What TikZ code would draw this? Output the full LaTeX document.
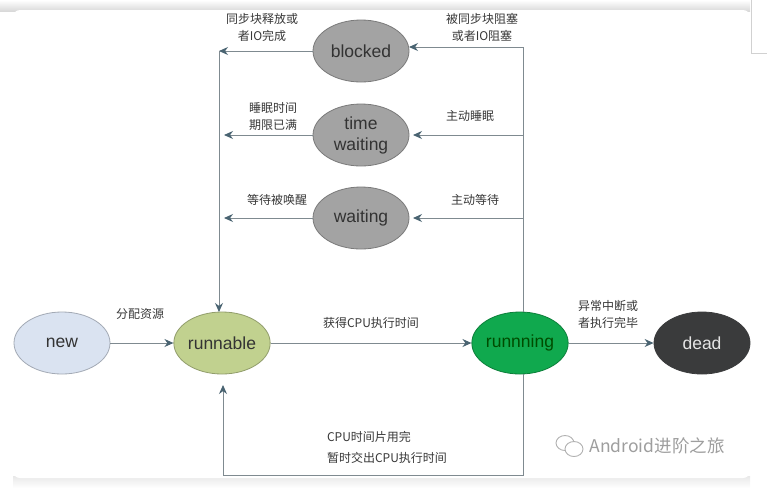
\documentclass[tikz,border=0pt]{standalone}
\usepackage{fontspec}
\setmainfont{Noto Sans CJK SC}
\newfontfamily\statefont{Liberation Sans}
\usetikzlibrary{arrows.meta,shapes.geometric}
\definecolor{linegray}{HTML}{7F8A90}
\definecolor{tipblue}{HTML}{4A6472}
\tikzset{
  state/.style={ellipse,draw=#1!75!black,fill=#1,line width=0.8pt,minimum width=96pt,minimum height=62pt,
    inner sep=0pt,align=center,font=\statefont\fontsize{17.5}{21}\selectfont,text=black!80},
  note/.style={align=center,inner sep=0pt,text=black!78,font=\fontsize{12}{17}\selectfont},
  flow/.style={draw=linegray,line width=1pt},
  arrow/.style={flow,-{Stealth[length=9pt,width=8pt,color=tipblue]}}
}
\definecolor{newblue}{HTML}{DAE3F1}
\definecolor{runnablegreen}{HTML}{C1D18F}
\definecolor{runninggreen}{HTML}{10A94E}
\definecolor{deadgray}{HTML}{3A3B3C}
\definecolor{waitgray}{HTML}{A3A3A3}
\begin{document}
\begin{tikzpicture}[x=1pt,y=-1pt]
  \useasboundingbox (0,0) rectangle (767,488);
  % card and its shadow
  \shade[top color=white,bottom color=black!15] (0,0) rectangle (750,11);
  \shade[top color=black!9,bottom color=white] (13,476) rectangle (750,488);
  \fill[white,rounded corners=7pt] (13,10) rectangle (750,478);
  \draw[black!18,line width=0.8pt] (751,0) -- (751,53) -- (767,53);

  % states
  \node[state=waitgray] (blocked) at (361,51) {blocked};
  \node[state=waitgray] (timewaiting) at (361,135) {time\\waiting};
  \node[state=waitgray] (waiting) at (361,218) {waiting};
  \node[state=newblue] (new) at (62,343) {new};
  \node[state=runnablegreen] (runnable) at (222,343) {runnable};
  \node[state=runninggreen,text=black!70!green] (running) at (520,343) {runnning};
  \node[state=deadgray,draw=deadgray,text=white!90!black] (dead) at (702,343) {dead};

  % free ends of the connectors
  \coordinate (leftin) at (219,51);
  \coordinate (leftdown) at (219,312);
  \coordinate (lefttime) at (224,135);
  \coordinate (leftwait) at (224,218);
  \coordinate (righttop) at (523,47);
  \coordinate (righttime) at (523,135);
  \coordinate (rightwait) at (523,218);
  \coordinate (rightdown) at (523,312);
  \coordinate (rightup) at (523,374);
  \coordinate (bottomright) at (523,475);
  \coordinate (bottomleft) at (223,475);
  \coordinate (backup) at (223,385);
  \coordinate (blockedin) at (409,47);
  \coordinate (timein) at (413,135);
  \coordinate (waitin) at (413,218);

  % connectors
  \draw[arrow] (new) -- (runnable);
  \draw[arrow] (runnable) -- (running);
  \draw[arrow] (running) -- (dead);
  \draw[arrow] (blocked) -- (leftin);
  \draw[arrow] (timewaiting) -- (lefttime);
  \draw[arrow] (waiting) -- (leftwait);
  \draw[arrow] (leftin) -- (leftdown);
  \draw[flow] (rightdown) -- (righttop);
  \draw[arrow] (righttop) -- (blockedin);
  \draw[arrow] (righttime) -- (timein);
  \draw[arrow] (rightwait) -- (waitin);
  \draw[arrow] (rightup) -- (bottomright) -- (bottomleft) -- (backup);

  % labels
  \node[note] (lblfree) at (262,27) {同步块释放或\\者IO完成};
  \node[note] (lblblock) at (482,27) {被同步块阻塞\\或者IO阻塞};
  \node[note] (lblwake) at (273,116) {睡眠时间\\期限已满};
  \node[note] (lblsleep) at (470,116) {主动睡眠};
  \node[note] (lblnotify) at (277,200) {等待被唤醒};
  \node[note] (lblwait) at (475,200) {主动等待};
  \node[note] (lblalloc) at (140,314) {分配资源};
  \node[note] (lblcpu) at (371,323) {获得CPU执行时间};
  \node[note] (lblend) at (608,314) {异常中断或\\者执行完毕};
  \node[note] (lblslice) at (369,437) {CPU时间片用完};
  \node[note] (lblyield) at (387,458) {暂时交出CPU执行时间};

  % watermark
  \draw[black!30,line width=0.9pt] (565,443) ellipse (9pt and 7.5pt);
  \draw[black!30,line width=0.9pt,fill=white] (574,449) ellipse (9pt and 7.5pt);
  \node[inner sep=0pt,text=black!38,font=\fontsize{17.5}{20}\selectfont] (mark) at (657,446) {Android进阶之旅};
\end{tikzpicture}
\end{document}
